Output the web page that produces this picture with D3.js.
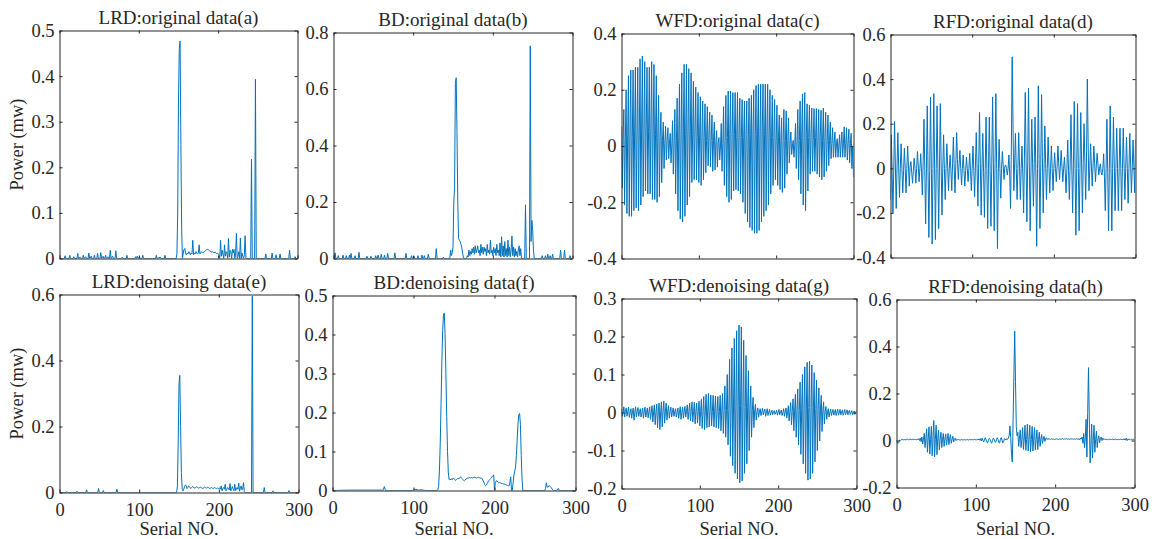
<!DOCTYPE html>
<html>
<head>
<meta charset="utf-8">
<script src="https://cdn.jsdelivr.net/npm/d3@7"></script>
<style>
  html, body { margin: 0; padding: 0; background: #fff; }
  svg text { font-family: "Liberation Serif", "Times New Roman", serif; fill: #262626; }
</style>
</head>
<body>
<svg id="fig" width="1158" height="539"></svg>
<script>
// ---------- tick values ----------
const sampleTicks = [0, 100, 200, 300];
const ticksLrdRaw = [0, 0.1, 0.2, 0.3, 0.4, 0.5];
const ticksBdRaw = [0, 0.2, 0.4, 0.6, 0.8];
const ticksWfdRaw = [-0.4, -0.2, 0, 0.2, 0.4];
const ticksRfdRaw = [-0.4, -0.2, 0, 0.2, 0.4, 0.6];
const ticksLrdDen = [0, 0.2, 0.4, 0.6];
const ticksBdDen = [0, 0.1, 0.2, 0.3, 0.4, 0.5];
const ticksWfdDen = [-0.2, -0.1, 0, 0.1, 0.2, 0.3];
const ticksRfdDen = [-0.2, 0, 0.2, 0.4, 0.6];

// ---------- power traces, [serial no., power] ----------
const lrdRaw = [
[0,0],[6,0],[7,0.006],[8,0],[12,0],[13,0.007],[14,0],[17,0],[18,0.004],[19,0],[22,0],[23,0.011],[24,0],[26,0.003],[27,0],[29,0],[30,0.007],[31,0],[33,0.004],[34,0],[36,0],[37,0.012],[38,0],[40,0.005],[41,0],[43,0],[44,0.007],[45,0],[47,0],[48,0.011],[49,0],[51,0],[52,0.013],[53,0],[55,0.005],[56,0],[57,0],[58,0.007],[59,0],[61,0.004],[62,0],[63,0],[64,0.018],[65,0],[67,0.005],[68,0],[70,0],[71,0.017],[72,0],[78,0],[79,0.003],[80,0],[84,0],[85,0.007],[86,0],[95,0],[96,0.004],[97,0],[98,0.005],[99,0],[101,0.003],[102,0],[104,0],[105,0.007],[106,0],[121,0],[122,0.007],[123,0],[127,0.003],[128,0],[132,0],[133,0.007],[134,0],
[147,0],[148,0.01],[149,0.1],[150,0.35],[151,0.46],[152,0.477],[153,0.25],[154,0.06],[155,0],
[156,0.012],[157,0.02],[158,0.022],[159,0.01],[160,0.008],[161,0.012],[162,0.01],[163,0.015],[164,0.012],[165,0.008],[166,0.012],[167,0.01],[168,0.04],[169,0.008],[170,0.012],[171,0.01],[172,0.015],[173,0.012],[174,0.01],[175,0.012],[176,0.03],[177,0.01],[178,0.012],[179,0.015],[180,0.013],[181,0.012],[182,0.014],[183,0.016],[184,0.017],[185,0.019],[186,0.02],[187,0.02],[188,0.019],[189,0.017],[190,0.016],[191,0.015],[192,0.014],[193,0.015],[194,0.013],[195,0.014],[196,0.012],[197,0.013],[198,0.011],[199,0.012],[200,0.01],
[201,0.008],[202,0],[203,0.04],[204,0.005],[205,0.018],[206,0.01],[207,0],[208,0.03],[209,0.005],[210,0.015],[211,0.012],[212,0],[213,0.044],[214,0.003],[215,0.018],[216,0.015],[217,0],[218,0.02],[219,0.012],[220,0.02],[221,0],[222,0.01],[223,0.055],[224,0],[225,0.005],[226,0.015],[227,0],[228,0.045],[229,0],[230,0.012],[231,0.005],[232,0],[233,0.008],[234,0.05],[235,0],
[241,0],[242,0.218],[243,0],[246,0],[247,0.393],[248,0],[259,0],[260,0.01],[261,0],[267,0],[268,0.012],[269,0],[272,0],[273,0.008],[274,0],[277,0],[278,0.01],[279,0],[289,0],[290,0.018],[291,0],[296,0],[297,0.004],[298,0],[300,0]
];

const bdRaw = [
[0,0],[1,0],[2,0.02],[3,0],[5,0],[6,0.01],[7,0],[11,0],[12,0.012],[13,0],[15,0],[16,0.01],[17,0],[19,0],[20,0.012],[21,0],[22,0.018],[23,0],[26,0],[27,0.01],[28,0],[31,0],[32,0.022],[33,0],[41,0],[42,0.008],[43,0],[46,0],[47,0.008],[48,0],[52,0],[53,0.01],[54,0],[55,0],[56,0.012],[57,0],[59,0],[60,0.015],[61,0],[63,0],[64,0.012],[65,0],[67,0],[68,0.018],[69,0],[76,0],[77,0.02],[78,0],[90,0],[91,0.018],[92,0],[97,0],[98,0.01],[99,0],[100,0],[101,0.008],[102,0],[105,0],[106,0.01],[107,0],[110,0],[111,0.012],[112,0],[113,0],[114,0.01],[115,0],[118,0],[119,0.015],[120,0],[128,0],[129,0.035],[130,0],[137,0],[138,0.005],[139,0],
[146,0],[147,0.03],[148,0.01],[149,0.02],[150,0.04],[151,0.2],[152,0.25],[153,0.62],[154,0.64],[155,0.45],[156,0.2],[157,0.07],[158,0.065],[159,0.06],[160,0.05],[161,0.04],[162,0.02],[163,0.005],[164,0],[167,0],
[168,0.01],[169,0.005],[170,0.03],[171,0.01],[172,0.025],[173,0.015],[174,0.035],[175,0.02],[176,0.04],[177,0.015],[178,0.045],[179,0.02],[180,0.03],[181,0.045],[182,0.02],[183,0.03],[184,0.01],[185,0.05],[186,0.02],[187,0.04],[188,0.015],[189,0.04],[190,0.025],[191,0.035],[192,0.01],[193,0.05],[194,0.02],[195,0.03],[196,0.015],[197,0.065],[198,0.02],[199,0.03],[200,0.01],
[201,0.04],[202,0.02],[203,0.035],[204,0.01],[205,0.05],[206,0.02],[207,0.03],[208,0.01],[209,0.055],[210,0.005],[211,0.077],[212,0.01],[213,0.045],[214,0.005],[215,0.06],[216,0.01],[217,0.035],[218,0.005],[219,0.065],[220,0.01],[221,0.04],[222,0.005],[223,0.03],[224,0.08],[225,0.01],[226,0.04],[227,0.005],[228,0.035],[229,0.01],[230,0.025],[231,0.005],[232,0.03],[233,0.045],[234,0.01],[235,0.035],[236,0],
[240,0],[241,0.19],[242,0],[246,0],[247,0.753],[248,0.06],[249,0.135],[250,0.1],[251,0.03],[252,0],
[261,0],[262,0.01],[263,0],[265,0],[266,0.01],[267,0],[268,0],[269,0.015],[270,0],[271,0],[272,0.01],[273,0],[274,0],[275,0.015],[276,0],[284,0],[285,0.03],[286,0],[289,0],[290,0.03],[291,0],[296,0],[297,0.01],[298,0],[300,0]
];

const lrdDen = [
[0,0],[8,0],[9,0.003],[10,0],[21,0],[22,0.004],[23,0],[33,0],[34,0.008],[35,0],[48,0],[49,0.012],[50,0],[54,0],[55,0.006],[56,0],[71,0],[72,0.01],[73,0],
[147,0],[148,0.02],[149,0.15],[150,0.33],[151,0.355],[152,0.2],[153,0.06],[154,0.01],[155,0.005],[156,0.01],[157,0.018],[158,0.023],[159,0.02],[160,0.012],[161,0.015],[162,0.02],[163,0.018],[164,0.014],[165,0.012],[166,0.015],[167,0.018],[168,0.017],[169,0.014],[170,0.013],[171,0.015],[172,0.017],[173,0.016],[174,0.014],[175,0.013],[176,0.015],[177,0.016],[178,0.015],[179,0.013],[180,0.012],[181,0.014],[182,0.016],[183,0.015],[184,0.013],[185,0.014],[186,0.016],[187,0.015],[188,0.013],[189,0.012],[190,0.014],[191,0.015],[192,0.013],[193,0.012],[194,0.014],[195,0.015],[196,0.013],[197,0.012],[198,0.014],[199,0.012],
[200,0.012],[201,0.014],[202,0.01],[203,0.02],[204,0.005],[205,0.012],[206,0.015],[207,0.01],[208,0.025],[209,0.005],[210,0.01],[211,0.015],[212,0.012],[213,0.008],[214,0.027],[215,0.005],[216,0.012],[217,0.018],[218,0.01],[219,0.005],[220,0.025],[221,0.006],[222,0.01],[223,0.015],[224,0.01],[225,0.028],[226,0.004],[227,0.012],[228,0.02],[229,0.008],[230,0.01],[231,0.03],[232,0.003],[233,0],
[241,0],[242,0.595],[243,0],[256,0],[257,0.015],[258,0],[267,0],[268,0.005],[269,0],[287,0],[288,0.006],[289,0],[300,0]
];

const bdDen = [
[0,0],[20,0.001],[60,0.001],[62,0],[63,0.004],[64,0.01],[65,0.003],[66,0],[99,0],[100,0.002],[103,0.003],[106,0.001],[110,0.002],[112,0.001],[115,0],[129,0],
[130,0.002],[131,0.01],[132,0.05],[133,0.12],[134,0.22],[135,0.33],[136,0.41],[137,0.45],[138,0.455],[139,0.4],[140,0.3],[141,0.19],[142,0.1],[143,0.045],[144,0.028],
[145,0.03],[146,0.027],[147,0.03],[148,0.028],[149,0.032],[150,0.03],[151,0.028],[152,0.026],[153,0.028],[154,0.03],[155,0.031],[156,0.03],[157,0.033],[158,0.035],[159,0.032],[160,0.03],[161,0.028],[162,0.026],[163,0.025],[164,0.027],[165,0.03],[166,0.031],[167,0.032],[168,0.032],[169,0.033],[170,0.032],[171,0.033],[172,0.033],[173,0.032],[174,0.033],[175,0.034],[176,0.033],[177,0.033],[178,0.032],[179,0.033],[180,0.034],[181,0.033],[182,0.032],[183,0.032],[184,0.031],[185,0.03],[186,0.025],[187,0.02],[188,0.015],[189,0.012],[190,0.014],[191,0.018],[192,0.022],[193,0.026],[194,0.028],[195,0.03],[196,0.032],[197,0.035],[198,0.038],[199,0.04],
[200,0],[201,0.02],[202,0.024],[203,0.025],[204,0.022],[205,0.02],[206,0.021],[207,0.02],[208,0.019],[209,0.018],[210,0.018],[211,0.017],[212,0.016],[213,0.016],[214,0.015],[215,0.014],[216,0.013],[217,0.012],[218,0.012],[219,0.02],[220,0.035],[221,0],[222,0],
[223,0.02],[224,0.04],[225,0.05],[226,0.06],[227,0.09],[228,0.13],[229,0.17],[230,0.195],[231,0.197],[232,0.17],[233,0.09],[234,0.03],[235,0],[236,0],
[262,0],[263,0.005],[264,0.02],[265,0.01],[266,0.008],[267,0.012],[268,0.012],[269,0.01],[270,0.008],[271,0.004],[272,0.002],[273,0],[277,0],[278,0.004],[279,0.005],[280,0],[300,0]
];

// ---------- vibration traces, one value per serial no. 0..300 ----------
const wfdRaw = [
0.07,-0.15,0.02, 0.13,-0.21,0.03, 0.2,-0.24,0.04, 0.25,-0.25,0.05, 0.27,-0.25,0.03, 0.27,-0.23,0.06, 0.28,-0.22,0.04, 0.28,-0.23,0.05, 0.31,-0.21,0.06, 0.32,-0.18,0.05,
0.3,-0.16,0.07, 0.28,-0.17,0.05, 0.28,-0.17,0.06, 0.3,-0.19,0.05, 0.29,-0.19,0.04, 0.25,-0.2,0.05, 0.18,-0.18,0.03, 0.12,-0.13,0.02, 0.085,-0.08,0.01, 0.07,-0.05,0.02,
0.065,-0.045,0.01, 0.045,-0.06,0, 0.09,-0.1,0.01, 0.13,-0.17,0.02, 0.17,-0.23,0.03, 0.22,-0.26,0.04, 0.26,-0.27,0.05, 0.29,-0.25,0.04, 0.29,-0.21,0.06, 0.275,-0.18,0.05,
0.26,-0.13,0.04, 0.23,-0.12,0.05, 0.21,-0.12,0.03, 0.19,-0.13,0.04, 0.175,-0.14,0.03, 0.16,-0.12,0.03, 0.15,-0.095,0.02, 0.14,-0.07,0.03, 0.12,-0.075,0.02, 0.11,-0.09,0.02,
0.085,-0.085,0.01, 0.055,-0.075,0.01, 0.03,-0.05,0, 0.08,-0.09,0.01, 0.14,-0.14,0.02, 0.18,-0.18,0.03, 0.195,-0.2,0.04, 0.195,-0.19,0.03, 0.19,-0.16,0.04, 0.19,-0.155,0.03,
0.19,-0.16,0.04, 0.17,-0.17,0.03, 0.165,-0.2,0.03, 0.16,-0.24,0.04, 0.16,-0.27,0.03, 0.17,-0.29,0.04, 0.18,-0.3,0.05, 0.2,-0.31,0.04, 0.215,-0.31,0.05, 0.22,-0.3,0.04,
0.22,-0.27,0.05, 0.22,-0.25,0.04, 0.22,-0.23,0.05, 0.22,-0.21,0.04, 0.2,-0.17,0.03, 0.18,-0.14,0.03, 0.165,-0.12,0.02, 0.145,-0.14,0.03, 0.11,-0.155,0.02, 0.1,-0.165,0.02,
0.13,-0.15,0.02, 0.125,-0.1,0.02, 0.1,-0.06,0.01, 0.05,-0.03,0, 0.02,-0.04,0, 0.08,-0.08,0.01, 0.13,-0.12,0.02, 0.16,-0.17,0.03, 0.185,-0.21,0.03, 0.19,-0.23,0.04,
0.15,-0.16,0.03, 0.145,-0.1,0.03, 0.135,-0.09,0.02, 0.133,-0.09,0.03, 0.133,-0.1,0.02, 0.13,-0.11,0.03, 0.127,-0.12,0.02, 0.135,-0.11,0.03, 0.12,-0.09,0.02, 0.11,-0.07,0.02,
0.085,-0.045,0.01, 0.065,-0.04,0.01, 0.05,-0.04,0.01, 0.026,-0.04,0, 0.04,-0.04,0.01, 0.05,-0.04,0.01, 0.068,-0.04,0.01, 0.065,-0.05,0.01, 0.06,-0.06,0.01, 0.045,-0.08,0,
-0.11
];

const rfdRaw = [
-0.14,0.15,-0.02,-0.2, 0,0.21,0.01,-0.18, 0.01,0.16,0.01,-0.13, 0,0.11,0,-0.11, -0.01,0.09,0,-0.11, 0,0.1,0.01,-0.08, 0.01,0.03,-0.02,-0.067, -0.01,0.045,0,-0.067, 0,0.075,0.01,-0.06, 0,0.065,-0.02,-0.12,
0.03,0.22,-0.01,-0.25, 0,0.28,-0.02,-0.31, -0.01,0.32,0,-0.34, 0,0.335,0.01,-0.32, 0,0.28,0,-0.27, 0.01,0.29,0.03,-0.21, 0,0.15,0,-0.14, 0,0.11,0.01,-0.1, 0,0.06,-0.01,-0.1, 0.02,0.14,0.01,-0.11,
0.02,0.16,0.04,-0.05, 0.02,0.08,0,-0.075, 0,0.06,-0.01,-0.08, -0.01,0.05,0,-0.06, 0,0.067,-0.01,-0.1, 0,0.1,-0.01,-0.127, 0.01,0.16,0,-0.17, 0.02,0.25,0.02,-0.21, 0,0.157,-0.02,-0.22, 0,0.23,-0.01,-0.27,
0,0.23,-0.01,-0.26, 0.02,0.32,0.02,-0.28, 0.02,0.335,0,-0.36, -0.02,0.13,0,-0.134, 0,0.075,0.01,-0.05, 0.01,0.015,0,-0.03, 0,0.06,-0.03,-0.18, 0.1,0.5,0.2,-0.1, 0.02,0.157,0,-0.14, 0,0.16,0.01,-0.14,
0,0.1,-0.03,-0.2, 0.05,0.34,0.04,-0.24, 0.03,0.36,0.02,-0.28, -0.02,0.22,0.02,-0.17, 0.02,0.23,-0.03,-0.35, 0,0.37,0.04,-0.27, 0.02,0.33,0.05,-0.2, 0,0.19,0.02,-0.14, 0,0.14,0.01,-0.11, 0,0.1,0,-0.1,
0,0.07,0,-0.06, 0.01,0.1,0.02,-0.05, 0.01,0.08,0.01,-0.06, 0,0.05,-0.02,-0.11, 0,0.127,-0.01,-0.14, 0.02,0.24,0.01,-0.2, 0.02,0.3,0,-0.3, 0,0.29,0,-0.28, 0,0.25,0.02,-0.2, 0.02,0.2,0.03,-0.14,
0.05,0.4,0.12,-0.1, 0,0.11,0.01,-0.08, 0.01,0.1,0.02,-0.06, 0.01,0.067,0.02,-0.03, 0,0.02,-0.02,-0.03, 0,0.065,-0.04,-0.19, 0,0.22,-0.02,-0.28, 0,0.28,0,-0.28, 0,0.23,0.02,-0.19, 0,0.18,0,-0.19,
0,0.18,0,-0.19, 0,0.18,0.02,-0.14, 0,0.14,0,-0.157, 0,0.157,0.02,-0.11, 0,0.127,0.01,-0.11,
0.13
];

const wfdDen = [
0.01,-0.01,0, 0.015,-0.012,0.003, 0.012,-0.01,0.002, 0.014,-0.013,0, 0.01,-0.015,0.002, 0.012,-0.02,0, 0.015,-0.012,0.003, 0.013,-0.01,0.002, 0.01,-0.012,0, 0.012,-0.015,0.002,
0.014,-0.012,0, 0.012,-0.014,0.002, 0.015,-0.018,0, 0.018,-0.025,0.003, 0.02,-0.032,0.002, 0.022,-0.04,0.004, 0.025,-0.045,0.002, 0.028,-0.038,0.004, 0.03,-0.028,0.002, 0.025,-0.02,0.003,
0.018,-0.015,0.002, 0.014,-0.012,0, 0.012,-0.01,0.002, 0.01,-0.012,0, 0.012,-0.015,0.002, 0.015,-0.018,0, 0.014,-0.015,0.002, 0.016,-0.012,0.003, 0.02,-0.018,0.002, 0.025,-0.022,0.003,
0.028,-0.025,0.002, 0.027,-0.03,0.004, 0.025,-0.028,0.002, 0.03,-0.035,0.003, 0.035,-0.042,0.002, 0.042,-0.045,0.004, 0.048,-0.04,0.003, 0.05,-0.038,0.004, 0.046,-0.035,0.002, 0.045,-0.038,0.004,
0.043,-0.04,0.003, 0.042,-0.042,0.002, 0.045,-0.048,0.004, 0.05,-0.055,0.005, 0.07,-0.065,0.005, 0.1,-0.085,0.008, 0.14,-0.115,0.01, 0.17,-0.14,0.012, 0.195,-0.16,0.015, 0.215,-0.175,0.015,
0.23,-0.185,0.018, 0.225,-0.18,0.015, 0.19,-0.16,0.013, 0.15,-0.135,0.012, 0.11,-0.1,0.01, 0.07,-0.065,0.006, 0.04,-0.04,0.004, 0.022,-0.02,0.002, 0.012,-0.012,0, 0.01,-0.008,0,
0.012,-0.006,0.002, 0.009,-0.01,0, 0.01,-0.008,0.001, 0.008,-0.007,0, 0.006,-0.006,0.001, 0.005,-0.005,0, 0.006,-0.007,0, 0.008,-0.006,0.001, 0.006,-0.008,0, 0.01,-0.01,0.001,
0.012,-0.014,0, 0.018,-0.022,0.002, 0.026,-0.032,0.003, 0.036,-0.048,0.004, 0.048,-0.065,0.005, 0.062,-0.085,0.006, 0.08,-0.11,0.008, 0.1,-0.135,0.01, 0.12,-0.16,0.012, 0.132,-0.178,0.013,
0.135,-0.175,0.013, 0.125,-0.16,0.012, 0.105,-0.13,0.01, 0.085,-0.1,0.008, 0.065,-0.075,0.006, 0.045,-0.05,0.004, 0.028,-0.03,0.003, 0.016,-0.018,0.002, 0.01,-0.012,0, 0.009,-0.008,0.001,
0.008,-0.007,0, 0.008,-0.008,0.001, 0.009,-0.007,0, 0.008,-0.006,0.001, 0.007,-0.007,0, 0.008,-0.006,0, 0.007,-0.006,0.001, 0.006,-0.005,0, 0.005,-0.006,0, 0.004,-0.005,0,
0.005
];

const rfdDen = [
0,-0.005,-0.012,-0.008,0.002,0,0.004,0.002,0.005,0.003,
0.004,0.002,0.005,0.004,0.006,0.003,0.005,0.004,0.006,0.004,
0.005,0.003,0.006,0.004,0.005,0.002,0.006,0.003,0.008,0,
0.01,-0.005,0.015,-0.015,0.006,0.03,-0.03,0.008,0.05,-0.05,
0.01,0.058,-0.058,0.005,0.06,-0.065,0.01,0.085,-0.07,0.005,
0.065,-0.06,0.008,0.045,-0.04,0.006,0.035,-0.03,0.005,0.03,
-0.025,0.006,0.028,-0.02,0.004,0.03,-0.018,0.006,0.025,-0.012,
0.004,0.018,-0.006,0.004,0.01,0,0.005,0.003,0.004,0.002,
0.003,0.002,0.004,0.003,0.002,0.003,0.004,0.002,0.003,0.004,
0.003,0.002,0.004,0.003,0.005,0.002,0.004,0.003,0.005,0.002,
0.004,0.003,0.006,0.002,0.007,0.001,0.008,-0.002,0.01,0,
-0.006,0.006,0.012,0.002,-0.008,-0.01,0.004,0.009,0.004,-0.006,
-0.012,0,0.01,0.006,-0.004,-0.008,0.004,0.012,0.004,-0.008,
-0.01,0.006,0.012,0.002,-0.01,-0.004,0.008,0.006,0.002,0.008,
0.005,0.01,0.02,0.062,0.01,-0.06,-0.092,0.09,0.28,0.465,
0.25,0.06,0.02,0.035,-0.025,0.01,0.045,-0.03,0.005,0.055,
-0.038,0.006,0.065,-0.042,0.004,0.07,-0.045,0.005,0.065,-0.048,
0.004,0.06,-0.045,0.006,0.055,-0.04,0.004,0.045,-0.038,0.005,
0.035,-0.025,0.006,0.025,-0.012,0.006,0.018,-0.004,0.008,0.012,
0.004,0.008,0.005,0.007,0.004,0.006,0.008,0.005,0.006,0.004,
0.006,0.005,0.007,0.006,0.004,0.006,0.007,0.005,0.006,0.008,
0.006,0.005,0.007,0.006,0.008,0.005,0.006,0.007,0.005,0.006,
0.008,0.006,0.007,0.005,0.006,0.008,0.005,0.007,0.006,0.005,
0.008,0.003,0.01,0.006,0.015,-0.012,0.03,-0.03,0.01,0.09,
-0.07,0.12,0.31,0.1,-0.095,-0.02,0.07,-0.075,0,0.065,
-0.05,0.005,0.04,-0.03,0.006,0.02,-0.01,0.008,0.015,0,
0.01,0.004,0.007,0.003,0.006,0.004,0.005,0.003,0.006,0.004,
0.005,0.004,0.006,0.003,0.005,0.004,0.006,0.004,0.005,0.003,
0.005,0.004,0.006,0.003,0.005,0.004,0.006,0.002,0.008,0.001,
0.01,0,0.006,0.004,0.005,0.003,0.006,0.003,0.004,0.005,
0.004
];

// ---------- layout ----------
const indexed = arr => arr.map((v, i) => [i, v]);

const panels = [
  { title: "LRD:original data(a)",  data: lrdRaw,          yDomain: [0, 0.5],    yTicks: ticksLrdRaw, box: [59.5, 30.5, 297.5, 258.5],  yLabel: true,  xLabels: false },
  { title: "BD:original data(b)",   data: bdRaw,           yDomain: [0, 0.8],    yTicks: ticksBdRaw,  box: [333.5, 32.5, 572.5, 258.5], yLabel: false, xLabels: false },
  { title: "WFD:original data(c)",  data: indexed(wfdRaw), yDomain: [-0.4, 0.4], yTicks: ticksWfdRaw, box: [621.5, 33.5, 853.5, 258.5], yLabel: false, xLabels: false },
  { title: "RFD:original data(d)",  data: indexed(rfdRaw), yDomain: [-0.4, 0.6], yTicks: ticksRfdRaw, box: [890.5, 34.5, 1135.5, 257.5], yLabel: false, xLabels: false },
  { title: "LRD:denoising data(e)", data: lrdDen,          yDomain: [0, 0.6],    yTicks: ticksLrdDen, box: [59.5, 294.5, 298.5, 492.5], yLabel: true,  xLabels: true },
  { title: "BD:denoising data(f)",  data: bdDen,           yDomain: [0, 0.5],    yTicks: ticksBdDen,  box: [332.5, 295.5, 575.5, 490.5], yLabel: false, xLabels: true },
  { title: "WFD:denoising data(g)", data: indexed(wfdDen), yDomain: [-0.2, 0.3], yTicks: ticksWfdDen, box: [621.5, 298.5, 856.5, 488.5], yLabel: false, xLabels: true },
  { title: "RFD:denoising data(h)", data: indexed(rfdDen), yDomain: [-0.2, 0.6], yTicks: ticksRfdDen, box: [896.5, 299.5, 1134.5, 487.5], yLabel: false, xLabels: true }
];

const LINE = "#0072BD";
const INK = "#262626";
const FONT = "Liberation Serif, Times New Roman, serif";
const TICK_FS = "18.5px";
const TITLE_FS = "19px";

const svg = d3.select("#fig");
const defs = svg.append("defs");

function styleAxis(g) {
  g.attr("font-family", FONT).attr("font-size", TICK_FS);
  g.selectAll("path.domain").attr("stroke", INK).attr("stroke-width", 1);
  g.selectAll(".tick line").attr("stroke", INK).attr("stroke-width", 1);
  g.selectAll(".tick text").attr("fill", INK);
}

panels.forEach((p, n) => {
  const [l, t, r, b] = p.box;
  const x = d3.scaleLinear().domain([0, 300]).range([l, r]);
  const y = d3.scaleLinear().domain(p.yDomain).range([b, t]);
  const fmt = v => String(v);

  defs.append("clipPath").attr("id", "plot" + n)
    .append("rect").attr("x", l).attr("y", t).attr("width", r - l).attr("height", b - t);

  const g = svg.append("g");

  g.append("path")
    .datum(p.data)
    .attr("clip-path", `url(#plot${n})`)
    .attr("fill", "none")
    .attr("stroke", LINE)
    .attr("stroke-width", 1)
    .attr("stroke-linejoin", "round")
    .attr("d", d3.line().x(d => x(d[0])).y(d => y(d[1])));

  // box with inward ticks on all four sides
  g.append("g").attr("transform", `translate(${l},0)`)
    .call(d3.axisLeft(y).tickValues(p.yTicks).tickFormat(fmt).tickSizeInner(-3).tickSizeOuter(0).tickPadding(5))
    .call(styleAxis);
  g.append("g").attr("transform", `translate(${r},0)`)
    .call(d3.axisRight(y).tickValues(p.yTicks).tickFormat("").tickSizeInner(-3).tickSizeOuter(0))
    .call(styleAxis);
  g.append("g").attr("transform", `translate(0,${b})`)
    .call(d3.axisBottom(x).tickValues(sampleTicks).tickFormat(p.xLabels ? fmt : "").tickSizeInner(-3).tickSizeOuter(0).tickPadding(10))
    .call(styleAxis);
  g.append("g").attr("transform", `translate(0,${t})`)
    .call(d3.axisTop(x).tickValues(sampleTicks).tickFormat("").tickSizeInner(-3).tickSizeOuter(0))
    .call(styleAxis);

  g.append("text")
    .attr("x", (l + r) / 2).attr("y", t - 7)
    .attr("text-anchor", "middle")
    .attr("font-size", TITLE_FS)
    .attr("fill", "#000")
    .text(p.title);

  if (p.yLabel) {
    g.append("text")
      .attr("transform", `translate(23,${(t + b) / 2}) rotate(-90)`)
      .attr("text-anchor", "middle")
      .attr("font-size", TICK_FS)
      .text("Power (mw)");
  }
  if (p.xLabels) {
    g.append("text")
      .attr("x", (l + r) / 2).attr("y", 535)
      .attr("text-anchor", "middle")
      .attr("font-size", TICK_FS)
      .text("Serial NO.");
  }
});
</script>
</body>
</html>
